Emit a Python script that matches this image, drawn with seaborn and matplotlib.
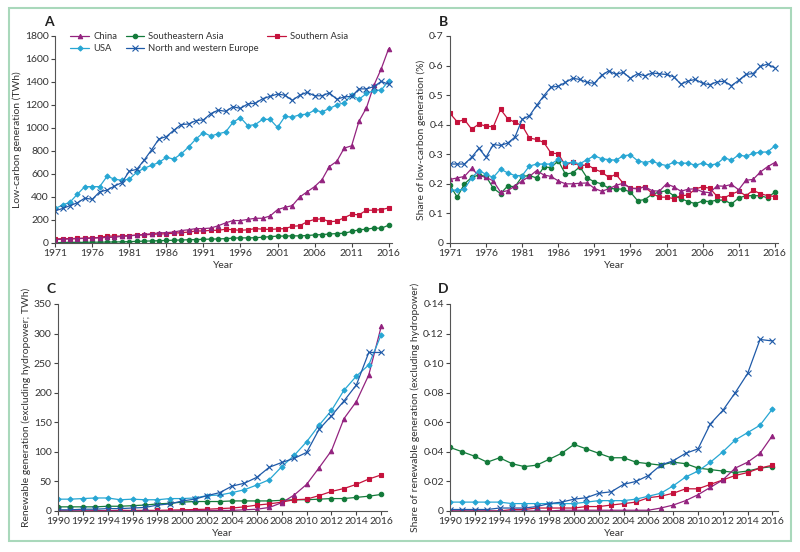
import seaborn as sns
import matplotlib.pyplot as plt
import matplotlib.ticker as mticker
from matplotlib.patches import Rectangle
import numpy as np

years_a = list(range(1971, 2017))
years_c = list(range(1990, 2017))

regions = ['China', 'USA', 'Southeastern Asia', 'North and western Europe', 'Southern Asia']

# panel A: low-carbon generation (TWh)
china_a = [30, 32, 35, 38, 40, 42, 45, 48, 50, 58, 62, 68, 75, 80, 88, 90, 95, 108, 115, 125,
           125, 130, 150, 175, 195, 195, 205, 215, 215, 235, 290, 310, 325, 400, 445, 490, 550,
           665, 710, 825, 845, 1060, 1175, 1370, 1515, 1690]
usa_a = [300, 330, 355, 425, 490, 490, 490, 580, 555, 545, 555, 615, 650, 675, 700, 745, 730,
         775, 835, 905, 960, 930, 950, 965, 1050, 1090, 1020, 1030, 1075, 1075, 1005, 1100, 1095,
         1115, 1120, 1155, 1140, 1170, 1200, 1220, 1285, 1250, 1300, 1325, 1330, 1410]
seasia_a = [3, 4, 5, 5, 6, 7, 7, 8, 9, 10, 12, 14, 16, 18, 20, 22, 24, 26, 28, 30, 32, 34, 35,
            38, 42, 45, 44, 46, 50, 55, 60, 60, 62, 62, 65, 70, 73, 78, 82, 85, 100, 115, 120,
            130, 128, 155]
europe_a = [280, 300, 325, 350, 390, 380, 445, 460, 495, 525, 625, 640, 720, 810, 905, 925, 980,
            1030, 1035, 1065, 1070, 1125, 1155, 1145, 1185, 1170, 1210, 1215, 1255, 1275, 1295,
            1285, 1240, 1285, 1310, 1280, 1280, 1305, 1250, 1270, 1275, 1340, 1340, 1360, 1405, 1380]
sasia_a = [35, 38, 38, 40, 42, 45, 48, 60, 60, 60, 65, 68, 70, 75, 78, 80, 85, 90, 95, 105, 105,
           110, 110, 120, 115, 110, 115, 125, 120, 118, 122, 125, 145, 150, 185, 205, 210, 185,
           190, 220, 250, 245, 285, 285, 290, 305]

# panel B: share of low-carbon generation
china_b = [0.215, 0.22, 0.225, 0.252, 0.228, 0.222, 0.21, 0.172, 0.177, 0.193, 0.21, 0.225, 0.245,
           0.23, 0.225, 0.21, 0.2, 0.2, 0.202, 0.203, 0.185, 0.175, 0.183, 0.195, 0.202, 0.185,
           0.183, 0.19, 0.177, 0.175, 0.2, 0.19, 0.175, 0.182, 0.183, 0.173, 0.17, 0.193, 0.192,
           0.198, 0.18, 0.212, 0.215, 0.24, 0.258, 0.272]
usa_b = [0.18, 0.178, 0.183, 0.22, 0.245, 0.232, 0.222, 0.25, 0.237, 0.228, 0.228, 0.26, 0.267,
         0.267, 0.267, 0.283, 0.27, 0.273, 0.268, 0.282, 0.295, 0.285, 0.282, 0.28, 0.295, 0.298,
         0.278, 0.272, 0.277, 0.267, 0.262, 0.273, 0.27, 0.27, 0.263, 0.27, 0.263, 0.268, 0.288,
         0.28, 0.298, 0.293, 0.303, 0.307, 0.308, 0.328]
seasia_b = [0.195, 0.155, 0.2, 0.222, 0.23, 0.225, 0.185, 0.167, 0.193, 0.19, 0.225, 0.228, 0.22,
            0.257, 0.255, 0.278, 0.233, 0.237, 0.258, 0.22, 0.207, 0.2, 0.185, 0.183, 0.182,
            0.172, 0.143, 0.147, 0.165, 0.172, 0.177, 0.16, 0.15, 0.14, 0.133, 0.142, 0.14,
            0.145, 0.145, 0.132, 0.152, 0.16, 0.16, 0.16, 0.153, 0.172]
europe_b = [0.267, 0.267, 0.267, 0.29, 0.32, 0.29, 0.333, 0.33, 0.338, 0.358, 0.418, 0.43, 0.465,
            0.498, 0.527, 0.53, 0.543, 0.557, 0.553, 0.543, 0.54, 0.567, 0.582, 0.57, 0.577,
            0.557, 0.573, 0.565, 0.575, 0.572, 0.57, 0.562, 0.537, 0.548, 0.553, 0.54, 0.535,
            0.545, 0.547, 0.532, 0.55, 0.57, 0.573, 0.597, 0.605, 0.592]
sasia_b = [0.438, 0.41, 0.417, 0.385, 0.402, 0.395, 0.393, 0.452, 0.42, 0.408, 0.397, 0.355, 0.35,
           0.34, 0.304, 0.302, 0.262, 0.275, 0.26, 0.265, 0.25, 0.24, 0.222, 0.232, 0.202, 0.185,
           0.185, 0.19, 0.168, 0.155, 0.155, 0.15, 0.16, 0.162, 0.183, 0.19, 0.185, 0.158, 0.153,
           0.165, 0.175, 0.16, 0.178, 0.167, 0.16, 0.157]

# panel C: renewable generation excluding hydropower (TWh)
china_c = [0, 0, 0, 0, 0, 0, 0, 0, 0, 0, 0.5, 0.5, 1, 1, 1, 2, 3, 6, 14, 27, 45, 73, 102, 156,
           185, 230, 312]
usa_c = [20, 20, 21, 22, 22, 19, 20, 19, 19, 21, 21, 22, 26, 27, 31, 36, 44, 53, 75, 94, 117,
         145, 170, 204, 228, 247, 298]
seasia_c = [7, 7, 7, 7, 8, 8, 9, 10, 12, 13, 15, 16, 16, 16, 17, 17, 17, 17, 18, 19, 19, 20, 21,
            21, 23, 25, 28]
europe_c = [2, 2, 3, 3, 4, 4, 5, 6, 10, 12, 17, 20, 26, 31, 42, 47, 57, 74, 82, 89, 99, 138, 161,
            186, 213, 268, 268]
sasia_c = [0, 0, 0, 0.5, 0.5, 1, 1, 1, 1, 1.5, 2, 2.5, 3, 4, 5, 7, 10, 12, 15, 19, 20, 26, 33,
           38, 45, 54, 61]

# panel D: share of renewable generation excluding hydropower
china_d = [0, 0, 0, 0, 0, 0, 0, 0, 0, 0.0005, 0.0005, 0.0005, 0.0005, 0.0005, 0.0005, 0.0005,
           0.0005, 0.002, 0.004, 0.007, 0.011, 0.016, 0.021, 0.029, 0.033, 0.039, 0.051]
usa_d = [0.006, 0.006, 0.006, 0.006, 0.006, 0.005, 0.005, 0.005, 0.005, 0.005, 0.005, 0.006,
         0.007, 0.007, 0.007, 0.008, 0.010, 0.012, 0.017, 0.023, 0.027, 0.033, 0.040, 0.048,
         0.053, 0.058, 0.069]
seasia_d = [0.043, 0.040, 0.037, 0.033, 0.036, 0.032, 0.030, 0.031, 0.035, 0.039, 0.045, 0.042,
            0.039, 0.036, 0.036, 0.033, 0.032, 0.031, 0.033, 0.032, 0.029, 0.028, 0.027, 0.026,
            0.027, 0.029, 0.030]
europe_d = [0.001, 0.001, 0.001, 0.001, 0.002, 0.002, 0.002, 0.003, 0.005, 0.006, 0.008, 0.009,
            0.012, 0.013, 0.018, 0.020, 0.024, 0.031, 0.034, 0.039, 0.042, 0.059, 0.068, 0.080,
            0.093, 0.116, 0.115]
sasia_d = [0, 0, 0, 0, 0, 0.001, 0.001, 0.002, 0.002, 0.002, 0.002, 0.003, 0.003, 0.004, 0.005,
           0.006, 0.009, 0.010, 0.012, 0.015, 0.015, 0.018, 0.021, 0.024, 0.026, 0.029, 0.031]

colors = {'China': '#93237f', 'USA': '#27a6d3', 'Southeastern Asia': '#137a3a',
          'North and western Europe': '#1f5aa8', 'Southern Asia': '#c5123c'}
markers = {'China': '^', 'USA': 'D', 'Southeastern Asia': 'o',
           'North and western Europe': 'x', 'Southern Asia': 's'}
msizes = {'China': 3.2, 'USA': 2.6, 'Southeastern Asia': 3.2,
          'North and western Europe': 3.8, 'Southern Asia': 3.2}

sns.set_style('ticks')
plt.rcParams['font.family'] = ['Lato', 'DejaVu Sans']
plt.rcParams['font.size'] = 7.5
txt = '#333333'


def dot_fmt(dec):
    def f(v, pos):
        if abs(v) < 1e-9:
            return '0'
        return ('{:.%df}' % dec).format(v).replace('.', '\u00b7')
    return mticker.FuncFormatter(f)


def draw_panel(ax, years, series, ylim, ystep, xticks, ylabel, fmt):
    for name in ['Southeastern Asia', 'Southern Asia', 'China', 'USA', 'North and western Europe']:
        c = colors[name]
        sns.lineplot(x=years, y=series[name], color=c, marker=markers[name],
                     markersize=msizes[name], markeredgecolor=c, markeredgewidth=0.8,
                     linewidth=0.9, label=name, ax=ax, legend=False)
    ax.set_xlim(years[0], years[-1] + 0.45)
    ax.set_ylim(0, ylim)
    ax.set_yticks(np.arange(0, ylim + ystep / 2, ystep))
    ax.set_xticks(xticks)
    ax.yaxis.set_major_formatter(fmt)
    ax.set_xlabel('Year', fontsize=7.5, color=txt, labelpad=2)
    ax.set_ylabel(ylabel, fontsize=7.5, color=txt, labelpad=2)
    ax.tick_params(labelsize=7.5, colors='#444444', labelcolor=txt, length=3, width=0.8, pad=1.5)
    for s in ['left', 'bottom']:
        ax.spines[s].set_color('#555555')
        ax.spines[s].set_linewidth(0.8)
    sns.despine(ax=ax)


fig = plt.figure(figsize=(8, 5.52), dpi=100)
axA = fig.add_axes([0.069, 0.5598, 0.421, 0.375])
axB = fig.add_axes([0.5625, 0.5598, 0.410, 0.375])
axC = fig.add_axes([0.0725, 0.0743, 0.411, 0.375])
axD = fig.add_axes([0.5625, 0.0743, 0.410, 0.375])

draw_panel(axA, years_a,
           {'China': china_a, 'USA': usa_a, 'Southeastern Asia': seasia_a,
            'North and western Europe': europe_a, 'Southern Asia': sasia_a},
           1800, 200, list(range(1971, 2017, 5)), 'Low-carbon generation (TWh)',
           mticker.FormatStrFormatter('%d'))
draw_panel(axB, years_a,
           {'China': china_b, 'USA': usa_b, 'Southeastern Asia': seasia_b,
            'North and western Europe': europe_b, 'Southern Asia': sasia_b},
           0.7, 0.1, list(range(1971, 2017, 5)), 'Share of low-carbon generation (%)',
           dot_fmt(1))
draw_panel(axC, years_c,
           {'China': china_c, 'USA': usa_c, 'Southeastern Asia': seasia_c,
            'North and western Europe': europe_c, 'Southern Asia': sasia_c},
           350, 50, list(range(1990, 2017, 2)), 'Renewable generation (excluding hydropower; TWh)',
           mticker.FormatStrFormatter('%d'))
draw_panel(axD, years_c,
           {'China': china_d, 'USA': usa_d, 'Southeastern Asia': seasia_d,
            'North and western Europe': europe_d, 'Southern Asia': sasia_d},
           0.14, 0.02, list(range(1990, 2017, 2)), 'Share of renewable generation (excluding hydropower)',
           dot_fmt(2))

# legend in panel A
handles, labels = axA.get_legend_handles_labels()
order = ['China', 'USA', 'Southeastern Asia', 'North and western Europe', 'Southern Asia']
hmap = dict(zip(labels, handles))
axA.legend([hmap[n] for n in order], order, ncol=3, loc='upper left',
           bbox_to_anchor=(0.02, 1.06), frameon=False, fontsize=6.8,
           handlelength=2.0, handletextpad=0.4, columnspacing=0.9,
           labelspacing=0.3, labelcolor=txt)

for ax, letter in [(axA, 'A'), (axB, 'B'), (axC, 'C'), (axD, 'D')]:
    ax.text(-0.02, 1.07, letter, transform=ax.transAxes, fontsize=10, fontweight='bold',
            color='#222222', ha='center', va='center')

fig.patches.append(Rectangle((0.011, 0.02), 0.978, 0.965, transform=fig.transFigure,
                             fill=False, edgecolor='#a9d8bb', linewidth=1.5))

fig.savefig('out.png', dpi=100)
